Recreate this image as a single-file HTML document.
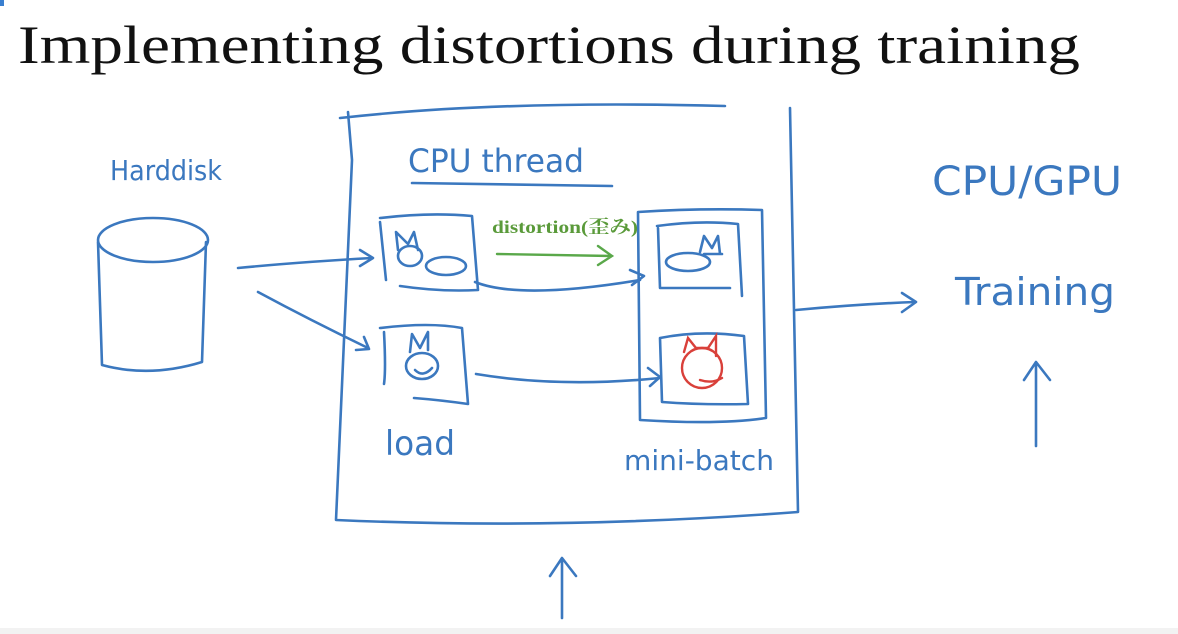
<!DOCTYPE html>
<html><head><meta charset="utf-8"><style>
html,body{margin:0;padding:0;background:#fff;}
svg{display:block}
</style></head><body>
<svg width="1178" height="634" viewBox="0 0 1178 634" xmlns="http://www.w3.org/2000/svg">
<rect width="1178" height="634" fill="#fff"/>
<rect x="0" y="628" width="1178" height="6" fill="#f2f2f2"/>
<rect x="0" y="0" width="4" height="6" fill="#3a7fd0"/>
<text x="18" y="63" font-family="Liberation Serif, serif" font-size="54" fill="#111" textLength="1062" lengthAdjust="spacingAndGlyphs">Implementing distortions during training</text>
<g fill="none" stroke="#3b78bf" stroke-width="2.6" stroke-linecap="round" stroke-linejoin="round">
<ellipse cx="153" cy="240" rx="55" ry="22"/>
<path d="M98 242 L102 365 Q150 378 202 362 L206 242"/>
<path d="M238 268 Q300 262 372 258"/><path d="M360 250 L373 258 L360 266"/>
<path d="M258 292 Q310 320 368 348"/><path d="M356 350 L369 349 L364 337"/>
<path d="M340 118 Q500 100 725 106 M348 112 L352 160 L336 520 Q560 530 798 512 L790 108"/>
<path d="M412 183 L612 186"/>
<path d="M380 222 L386 280 M380 218 Q430 212 472 216 L478 290 Q440 292 400 286"/>
<path d="M384 332 Q386 370 384 384 M380 328 Q430 322 462 328 L468 404 Q440 400 414 398"/>
<path d="M398 250 L396 232 L408 244 L414 232 L418 250"/>
<ellipse cx="410" cy="256" rx="12" ry="10"/>
<ellipse cx="446" cy="266" rx="20" ry="9"/>
<path d="M410 352 L412 334 L420 348 L428 332 L428 350"/>
<ellipse cx="422" cy="366" rx="16" ry="13"/>
<path d="M415 370 Q423 378 432 368"/>
<path d="M638 212 Q700 208 762 210 L766 418 Q720 425 640 420 Z" />
<path d="M657 226 Q700 220 738 224 L742 296 M658 228 L660 288 L730 288"/>
<path d="M660 338 Q700 330 744 336 L748 404 Q700 405 662 402 Z"/>
<ellipse cx="688" cy="262" rx="22" ry="9"/>
<path d="M700 252 L704 236 L712 248 L718 236 L720 254 M704 254 L722 254"/>
<path d="M475 282 Q520 300 640 280"/><path d="M630 270 L644 276 L632 285"/>
<path d="M476 374 Q560 388 660 378"/><path d="M648 368 L660 377 L650 386"/>
<path d="M796 310 Q860 304 915 302"/><path d="M902 293 L916 302 L902 312"/>
<path d="M562 618 L562 560 M550 576 L562 558 L576 576"/>
<path d="M1036 446 L1036 364 M1024 380 L1036 362 L1050 380"/>
</g>
<path d="M497 254 L612 256 M598 246 L612 256 L598 265" fill="none" stroke="#5aa84a" stroke-width="2.4" stroke-linecap="round"/>
<g fill="none" stroke="#d9403a" stroke-width="2.4" stroke-linecap="round">
<path d="M684 352 L688 338 L696 348 L708 348 L716 336 L716 356"/>
<ellipse cx="702" cy="368" rx="20" ry="20"/>
<path d="M700 380 Q712 384 722 378"/>
</g>
<text x="492" y="233" font-family="Liberation Serif, 'Noto Serif CJK SC', serif" font-weight="bold" font-size="18" fill="#5a9a3a" textLength="146" lengthAdjust="spacingAndGlyphs">distortion(歪み)</text>
<g font-family="'DejaVu Sans', sans-serif" fill="#3b78bf">
<text x="110" y="180" font-size="28" textLength="112" lengthAdjust="spacingAndGlyphs">Harddisk</text>
<text x="408" y="172" font-size="32" textLength="176" lengthAdjust="spacingAndGlyphs">CPU thread</text>
<text x="932" y="195" font-size="40" textLength="190" lengthAdjust="spacingAndGlyphs">CPU/GPU</text>
<text x="955" y="305" font-size="38" textLength="160" lengthAdjust="spacingAndGlyphs">Training</text>
<text x="385" y="455" font-size="34" textLength="70" lengthAdjust="spacingAndGlyphs">load</text>
<text x="624" y="470" font-size="28" textLength="150" lengthAdjust="spacingAndGlyphs">mini-batch</text>
</g>
</svg>
</body></html>
